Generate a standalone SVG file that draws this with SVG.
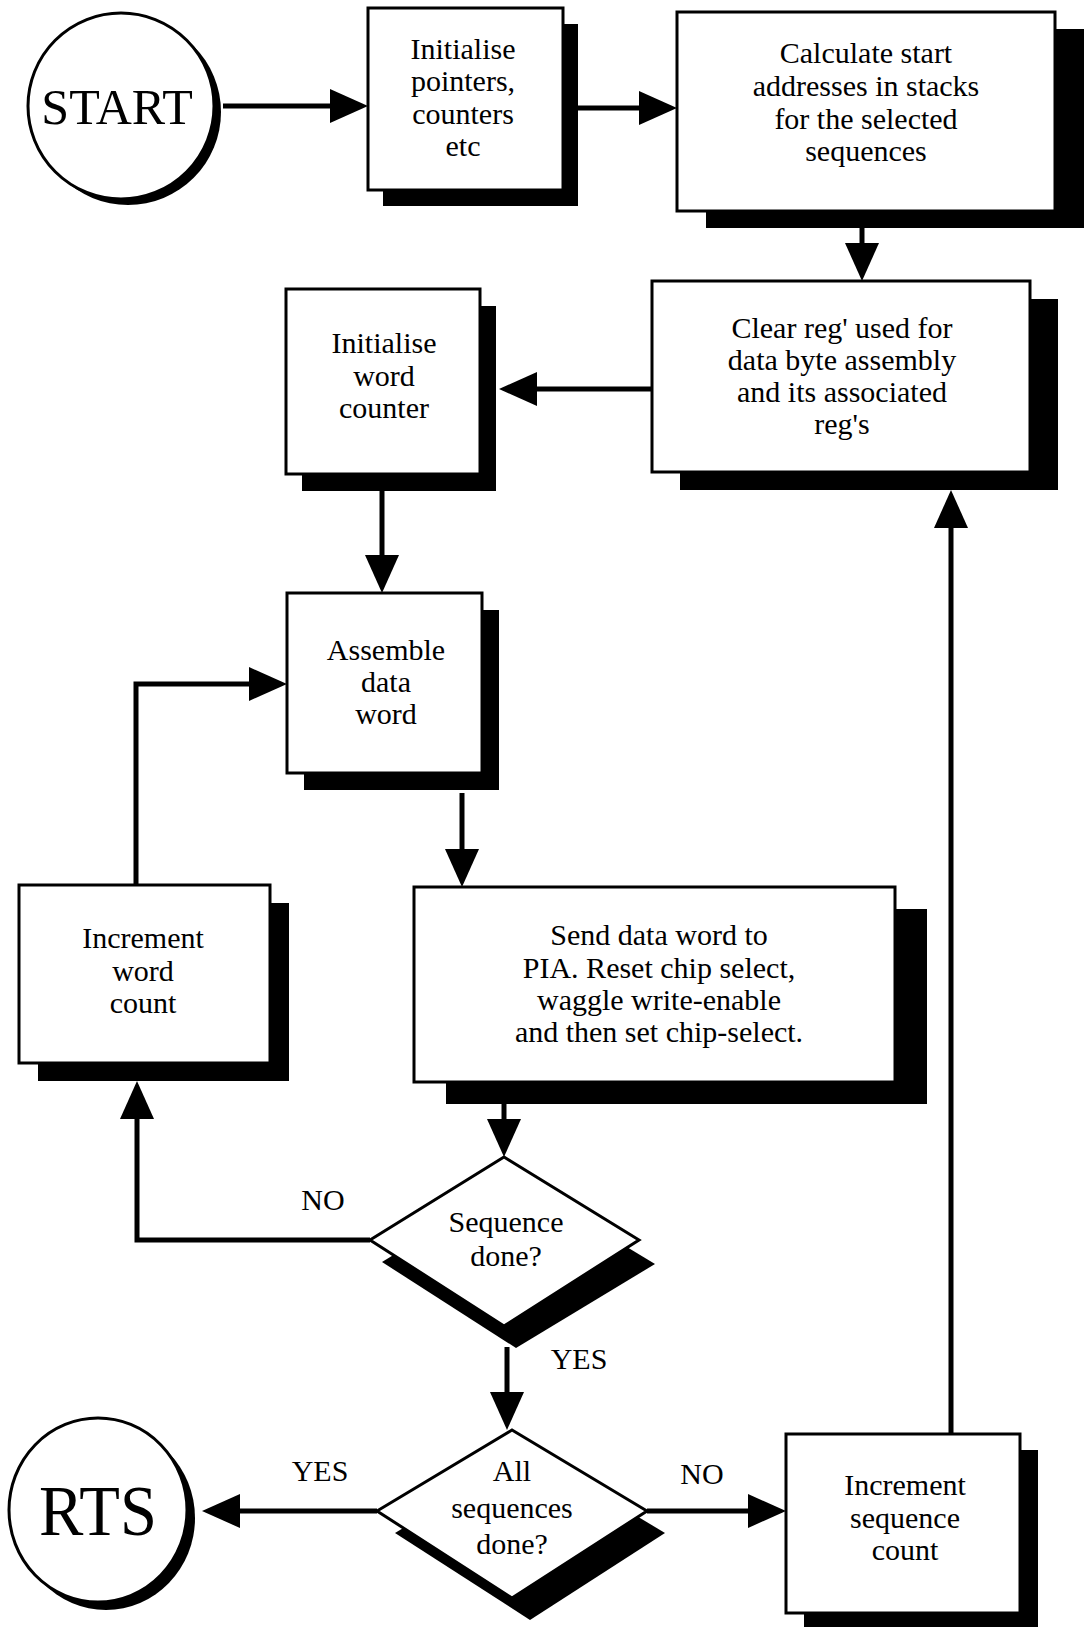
<svg xmlns="http://www.w3.org/2000/svg" width="1085" height="1627" viewBox="0 0 1085 1627">
<defs>
<marker id="ah" markerUnits="userSpaceOnUse" markerWidth="38" markerHeight="34" refX="0" refY="17" orient="auto" viewBox="0 0 38 34"><path d="M0,0 L38,17 L0,34 Z" fill="#000"/></marker>
</defs>
<style>
.box{fill:#fff;stroke:#000;stroke-width:3}
.sh{fill:#000}
.t{font-family:"Liberation Serif","Times New Roman",serif;font-size:30px;text-anchor:middle;fill:#000}
.c{fill:none;stroke:#000;stroke-width:5}
</style>
<rect width="1085" height="1627" fill="#fff"/>
<g id="start">
<circle class="sh" cx="128" cy="112" r="93"/>
<circle class="box" cx="121" cy="106" r="93" stroke-width="2.5"/>
<text class="t" x="117" y="124" style="font-size:50px">START</text>
</g>
<g id="init">
<rect class="sh" x="383" y="24" width="195" height="182"/>
<rect class="box" x="368" y="8" width="195" height="182"/>
<text class="t" x="463" y="59">Initialise</text>
<text class="t" x="463" y="91">pointers,</text>
<text class="t" x="463" y="124">counters</text>
<text class="t" x="463" y="156">etc</text>
</g>
<g id="calc">
<rect class="sh" x="706" y="29" width="378" height="199"/>
<rect class="box" x="677" y="12" width="378" height="199"/>
<text class="t" x="866" y="63">Calculate start</text>
<text class="t" x="866" y="96">addresses in stacks</text>
<text class="t" x="866" y="129">for the selected</text>
<text class="t" x="866" y="161">sequences</text>
</g>
<g id="clear">
<rect class="sh" x="680" y="299" width="378" height="191"/>
<rect class="box" x="652" y="281" width="378" height="191"/>
<text class="t" x="842" y="338">Clear reg' used for</text>
<text class="t" x="842" y="370">data byte assembly</text>
<text class="t" x="842" y="402">and its associated</text>
<text class="t" x="842" y="434">reg's</text>
</g>
<g id="initword">
<rect class="sh" x="302" y="306" width="194" height="185"/>
<rect class="box" x="286" y="289" width="194" height="185"/>
<text class="t" x="384" y="353">Initialise</text>
<text class="t" x="384" y="386">word</text>
<text class="t" x="384" y="418">counter</text>
</g>
<g id="assemble">
<rect class="sh" x="304" y="610" width="195" height="180"/>
<rect class="box" x="287" y="593" width="195" height="180"/>
<text class="t" x="386" y="660">Assemble</text>
<text class="t" x="386" y="692">data</text>
<text class="t" x="386" y="724">word</text>
</g>
<g id="send">
<rect class="sh" x="446" y="909" width="481" height="195"/>
<rect class="box" x="414" y="887" width="481" height="195"/>
<text class="t" x="659" y="945">Send data word to</text>
<text class="t" x="659" y="978">PIA. Reset chip select,</text>
<text class="t" x="659" y="1010">waggle write-enable</text>
<text class="t" x="659" y="1042">and then set chip-select.</text>
</g>
<g id="incword">
<rect class="sh" x="38" y="903" width="251" height="178"/>
<rect class="box" x="19" y="885" width="251" height="178"/>
<text class="t" x="143" y="948">Increment</text>
<text class="t" x="143" y="981">word</text>
<text class="t" x="143" y="1013">count</text>
</g>
<g id="seqdone">
<polygon class="sh" points="516,1180 655,1264 516,1348 382,1262"/>
<polygon class="box" points="504,1157 639,1240 504,1326 370,1240"/>
<text class="t" x="506" y="1232">Sequence</text>
<text class="t" x="506" y="1266">done?</text>
</g>
<g id="allseq">
<polygon class="sh" points="530,1452 665,1533 530,1620 395,1533"/>
<polygon class="box" points="512,1430 647,1511 512,1598 377,1511"/>
<text class="t" x="512" y="1481">All</text>
<text class="t" x="512" y="1518">sequences</text>
<text class="t" x="512" y="1554">done?</text>
</g>
<g id="rts">
<ellipse class="sh" cx="106" cy="1518" rx="89" ry="92"/>
<ellipse class="box" cx="98" cy="1510" rx="89" ry="92" stroke-width="2.5"/>
<text class="t" x="98" y="1535" style="font-size:72px" textLength="118" lengthAdjust="spacingAndGlyphs">RTS</text>
</g>
<g id="incseq">
<rect class="sh" x="804" y="1450" width="234" height="179"/>
<rect class="box" x="786" y="1434" width="234" height="179"/>
<text class="t" x="905" y="1495">Increment</text>
<text class="t" x="905" y="1528">sequence</text>
<text class="t" x="905" y="1560">count</text>
</g>
<g id="labels">
<text class="t" x="323" y="1210">NO</text>
<text class="t" x="579" y="1369">YES</text>
<text class="t" x="320" y="1481">YES</text>
<text class="t" x="702" y="1484">NO</text>
</g>
<g id="connectors">
<path class="c" marker-end="url(#ah)" d="M223,106 L330,106"/>
<path class="c" marker-end="url(#ah)" d="M578,108 L639,108"/>
<path class="c" marker-end="url(#ah)" d="M862,228 L862,243"/>
<path class="c" marker-end="url(#ah)" d="M652,389 L537,389"/>
<path class="c" marker-end="url(#ah)" d="M382,491 L382,555"/>
<path class="c" marker-end="url(#ah)" d="M462,793 L462,849"/>
<path class="c" marker-end="url(#ah)" d="M504,1104 L504,1119"/>
<path class="c" marker-end="url(#ah)" d="M370,1240 L137,1240 L137,1119"/>
<path class="c" marker-end="url(#ah)" d="M136,885 L136,684 L249,684"/>
<path class="c" marker-end="url(#ah)" d="M507,1347 L507,1392"/>
<path class="c" marker-end="url(#ah)" d="M377,1511 L240,1511"/>
<path class="c" marker-end="url(#ah)" d="M647,1511 L748,1511"/>
<path class="c" marker-end="url(#ah)" d="M951,1434 L951,528"/>
</g>
</svg>
